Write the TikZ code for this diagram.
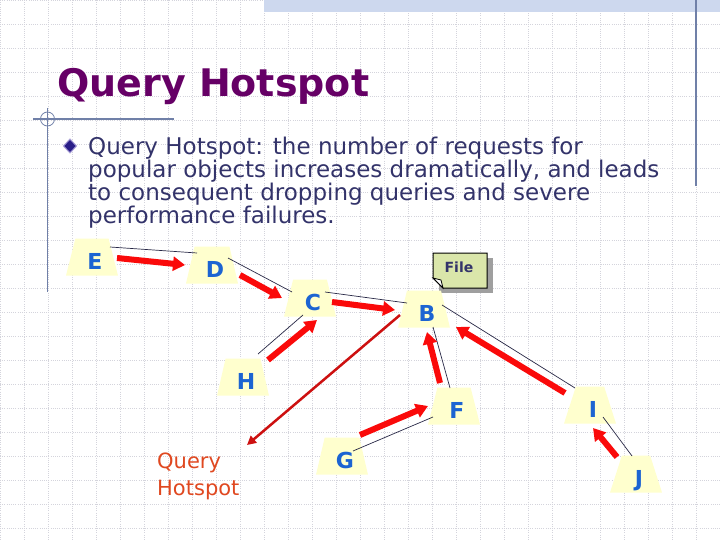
\documentclass[tikz,border=0pt]{standalone}
\usepackage{fontspec}
\setmainfont{DejaVu Sans}
\usetikzlibrary{shapes.geometric,arrows.meta}
\definecolor{gridc}{RGB}{212,212,220}
\definecolor{band}{RGB}{205,216,238}
\definecolor{rulec}{RGB}{112,128,168}
\definecolor{titlec}{RGB}{102,0,102}
\definecolor{bodyc}{RGB}{51,51,106}
\definecolor{nodefill}{RGB}{255,255,206}
\definecolor{letterc}{RGB}{28,100,210}
\definecolor{arrowred}{RGB}{250,10,10}
\definecolor{darkred}{RGB}{205,16,16}
\definecolor{qhc}{RGB}{224,72,32}
\definecolor{edgec}{RGB}{40,40,70}
\definecolor{notefill}{RGB}{218,230,170}
\definecolor{bulletc}{RGB}{42,30,136}
\definecolor{bulletedge}{RGB}{170,160,216}
\begin{document}
\begin{tikzpicture}[x=1pt,y=-1pt,
  vertex/.style={trapezium, trapezium stretches=true,
    trapezium left angle=76, trapezium right angle=76,
    minimum width=52pt, minimum height=37pt, fill=nodefill,
    inner sep=0pt, text=letterc, text height=24pt, text depth=0pt,
    font=\fontsize{22}{22}\selectfont\bfseries},
  treeedge/.style={draw=edgec, line width=0.7pt},
  flow/.style={draw=arrowred, line width=6pt, -{Triangle[length=12pt,width=14pt]}},
  thinflow/.style={draw=darkred, line width=2.5pt, -{Triangle[length=9pt,width=9pt]}},
  gridline/.style={draw=gridc, line width=0.5pt, dash pattern=on 1pt off 1.2pt},
  rulel/.style={draw=rulec, line width=1.3pt},
  bodytext/.style={anchor=base west, inner sep=0pt, text=bodyc, font=\fontsize{23}{23}\selectfont},
  qhtext/.style={anchor=base west, inner sep=0pt, text=qhc, font=\fontsize{21}{21}\selectfont},
  titletext/.style={anchor=base west, inner sep=0pt, font=\fontsize{38}{38}\selectfont\bfseries}
]
\useasboundingbox (0,0) rectangle (720,540);
\fill[white] (0,0) rectangle (720,540);
% grid
\foreach \i in {0,24,...,720} \draw[gridline] (\i,0) -- (\i,540);
\foreach \j in {0,24,...,540} \draw[gridline] (0,\j) -- (720,\j);
% decorations
\fill[band] (264,0) rectangle (720,12);
\draw[rulel] (696,0) -- (696,186);
\draw[rulel] (33,119) -- (174,119);
\draw[rulel] (47.5,108) -- (47.5,292);
\draw[draw=rulec, line width=0.8pt] (47.5,119) circle (7);
% title
\node[titletext, text=titlec] (title) at (57,97) {Query Hotspot};
% bullet
\filldraw[fill=bulletc, draw=bulletedge, line width=1pt] (70,139) -- (76.5,146) -- (70,153) -- (63.5,146) -- cycle;
\node[bodytext] (l1) at (88,155) {Query Hotspot: the number of requests for};
\node[bodytext] (l2) at (88,178) {popular objects increases dramatically, and leads};
\node[bodytext] (l3) at (88,201) {to consequent dropping queries and severe};
\node[bodytext] (l4) at (88,224) {performance failures.};
% file note
\fill[gray!75] (439,258) rectangle (493,293);
\filldraw[fill=notefill, draw=black, line width=1pt] (433,253) -- (487,253) -- (487,288) -- (443,288) -- (433,278) -- cycle;
\filldraw[fill=white, draw=black, line width=0.8pt] (433,278) -- (443,288) -- (441,280) -- cycle;
\node[inner sep=0pt, text=bodyc, font=\fontsize{14}{14}\selectfont\bfseries] (file) at (459,267) {File};
% vertices
\node[vertex] (E) at (92,257) {\hspace{6pt}E};
\node[vertex] (D) at (212,265) {\hspace{6pt}D};
\node[vertex] (C) at (310,298) {\hspace{6pt}C};
\node[vertex] (B) at (424,309) {\hspace{6pt}B};
\node[vertex] (H) at (243,377) {\hspace{6pt}H};
\node[vertex] (G) at (342,456) {\hspace{6pt}G};
\node[vertex] (F) at (454,406) {\hspace{6pt}F};
\node[vertex] (I) at (590,405) {\hspace{6pt}I};
\node[vertex] (J) at (636,474) {\hspace{6pt}J};
% Query Hotspot label
\node[qhtext] (qh1) at (157,468) {Query};
\node[qhtext] (qh2) at (157,495) {Hotspot};
\coordinate (qhtip) at (247,445);
% tree edges
\draw[treeedge] ([shift={(18,-10)}]E.center) -- ([shift={(-15,-12)}]D.center);
\draw[treeedge] ([shift={(16,-7)}]D.center) -- ([shift={(-18,-6)}]C.center);
\draw[treeedge] ([shift={(-7,17)}]C.center) -- ([shift={(15,-23)}]H.center);
\draw[treeedge] ([shift={(15,-6)}]C.center) -- ([shift={(-17,-6)}]B.center);
\draw[treeedge] ([shift={(18,-4)}]B.center) -- ([shift={(-15,-17)}]I.center);
\draw[treeedge] ([shift={(9,18)}]B.center) -- ([shift={(-4,-18)}]F.center);
\draw[treeedge] ([shift={(11,-5)}]G.center) -- ([shift={(-21,11)}]F.center);
\draw[treeedge] ([shift={(13,12)}]I.center) -- ([shift={(-4,-18)}]J.center);
% flows
\draw[flow] ([shift={(25,1)}]E.center) -- ([shift={(-27,0)}]D.center);
\draw[flow] ([shift={(28,10)}]D.center) -- ([shift={(-28,0)}]C.center);
\draw[flow] ([shift={(25,-17)}]H.center) -- ([shift={(7,22)}]C.center);
\draw[flow] ([shift={(22,4)}]C.center) -- ([shift={(-29,1)}]B.center);
\draw[flow] ([shift={(18,-21)}]G.center) -- ([shift={(-26,0)}]F.center);
\draw[flow] ([shift={(-14,-23)}]F.center) -- ([shift={(3,23)}]B.center);
\draw[flow] ([shift={(-25,-12)}]I.center) -- ([shift={(32,18)}]B.center);
\draw[flow] ([shift={(-19,-17)}]J.center) -- ([shift={(3,23)}]I.center);
\draw[thinflow] ([shift={(-24,6)}]B.center) -- (qhtip);
\end{tikzpicture}
\end{document}
